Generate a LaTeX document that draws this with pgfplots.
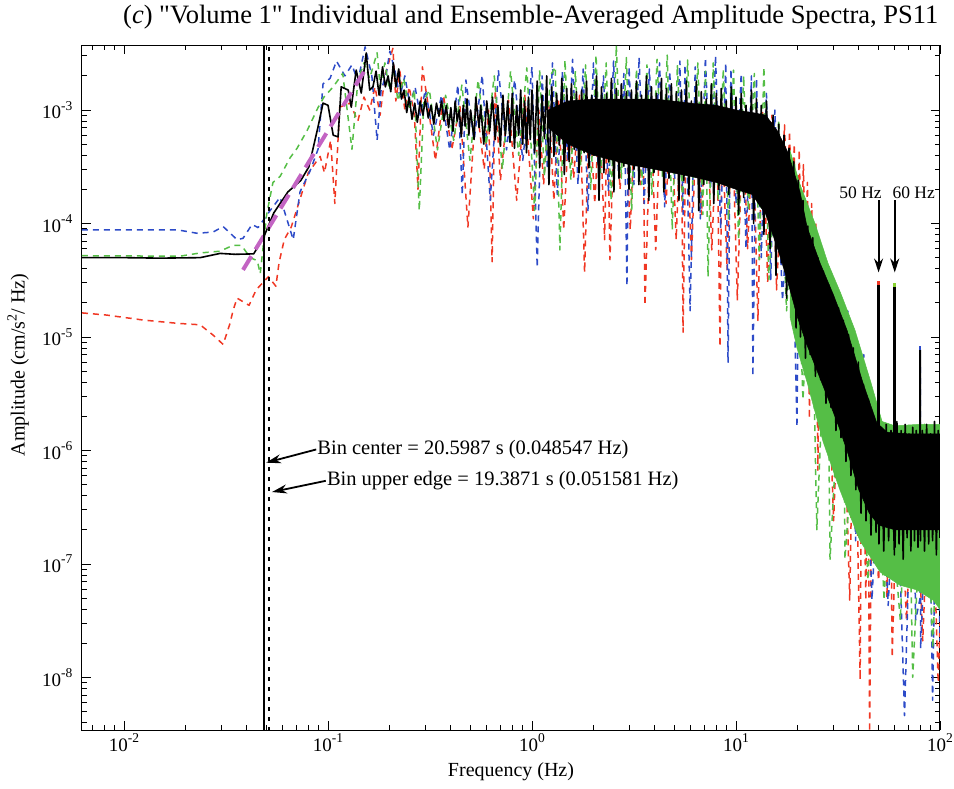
\documentclass[border=0pt]{standalone}
\usepackage{fontspec}
\setmainfont{Liberation Serif}[Ligatures=TeXOff]
\usepackage{pgfplots}
\pgfplotsset{compat=1.18}
\usetikzlibrary{arrows.meta}
\definecolor{cblue}{RGB}{45,75,200}
\definecolor{cgreen}{RGB}{85,190,70}
\definecolor{cred}{RGB}{240,55,35}
\definecolor{cmag}{RGB}{195,100,195}
\newcommand{\tl}[1]{{\fontsize{19}{19}\selectfont 10\raisebox{0.45em}{\fontsize{13.5}{13.5}\selectfont #1}}}
\begin{document}
\begin{tikzpicture}
\begin{axis}[
  at={(0pt,0pt)}, anchor=south west,
  width=858pt, height=685pt, scale only axis,
  xmode=log, ymode=log,
  xmin=0.00622, xmax=100, ymin=3.44e-9, ymax=3.74e-3,
  xtick={0.01,0.1,1,10,100},
  xticklabels={\tl{-2},\tl{-1},\tl{0},\tl{1},\tl{2}},
  ytick={1e-8,1e-7,1e-6,1e-5,1e-4,1e-3},
  yticklabels={\tl{-8},\tl{-7},\tl{-6},\tl{-5},\tl{-4},\tl{-3}},
  minor xtick={0.007,0.008,0.009,0.02,0.03,0.04,0.05,0.06,0.07,0.08,0.09,0.2,0.3,0.4,0.5,0.6,0.7,0.8,0.9,2,3,4,5,6,7,8,9,20,30,40,50,60,70,80,90},
  minor ytick={4e-9,5e-9,6e-9,7e-9,8e-9,9e-9,2e-8,3e-8,4e-8,5e-8,6e-8,7e-8,8e-8,9e-8,2e-7,3e-7,4e-7,5e-7,6e-7,7e-7,8e-7,9e-7,2e-6,3e-6,4e-6,5e-6,6e-6,7e-6,8e-6,9e-6,2e-5,3e-5,4e-5,5e-5,6e-5,7e-5,8e-5,9e-5,2e-4,3e-4,4e-4,5e-4,6e-4,7e-4,8e-4,9e-4,2e-3,3e-3},
  xtick pos=both, ytick pos=both,
  tick align=inside,
  major tick length=9pt, minor tick length=5pt,
  every tick/.style={black, line width=0.8pt},
  axis line style={line width=1pt},
  every y tick label/.append style={xshift=-6pt},
  clip=true,
  every axis plot/.append style={line join=round, mark=none},
]
% red individual record
\addplot[cred, line width=1.5pt, dash pattern=on 6pt off 5pt] coordinates {
(0.00622,1.63e-5)(0.0082,1.56e-5)(0.0124,1.41e-5)(0.0182,1.32e-5)(0.0236,1.28e-5)(0.0273,1.04e-5)(0.0306,8.6e-6)(0.0330,1.3e-5)(0.0342,1.7e-5)(0.0358,2.2e-5)(0.0410,1.9e-5)(0.0444,2.6e-5)(0.0510,3.4e-5)(0.0555,2.8e-5)(0.0575,4.5e-5)(0.0610,7.2e-5)(0.0660,9.3e-5)(0.0700,1.3e-4)(0.0800,2.8e-4)(0.0915,3.9e-4)(0.0960,2.8e-4)(0.1030,5.4e-4)(0.1080,1.5e-4)(0.1140,1.06e-3)(0.1280,1.15e-3)(0.1400,8.0e-4)(0.1500,1.3e-3)(0.1600,1.0e-3)(0.1700,1.6e-3)(0.1800,9.0e-4)(0.1900,2.0e-3)(0.2080,3.5e-3)(0.2150,1.2e-3)(0.2250,2.2e-3)(0.2380,1.0e-3)(0.2500,1.6e-3)(0.2650,9.0e-4)(0.276,2.0e-4)(0.290,2.4e-3)
(0.307,1.22e-3)(0.336,3.6e-4)(0.368,1.35e-3)(0.404,4.45e-4)(0.443,1.1e-3)(0.485,9.3e-5)(0.532,1.22e-3)(0.583,3.0e-4)(0.612,1.0e-3)(0.637,4.6e-5)(0.660,1.5e-3)(0.700,2.4e-4)(0.767,1.22e-3)(0.841,1.6e-4)(0.922,1.35e-3)
(1.015,1.1e-4)(1.08,1.0e-3)(1.14,2.2e-4)(1.21,1.1e-3)(1.28,1.6e-4)(1.35,1.22e-3)(1.43,8.8e-5)(1.52,9.0e-4)(1.60,2.5e-4)(1.71,1.35e-3)(1.81,3.7e-5)(1.91,1.1e-3)(2.03,1.5e-4)(2.14,1.0e-3)(2.27,7.2e-5)(2.34,1.1e-3)(2.41,4.8e-5)(2.55,1.22e-3)(2.70,2.0e-4)(2.86,9.5e-4)(3.03,8.8e-5)(3.21,1.1e-3)(3.40,2.2e-4)(3.50,9.0e-4)(3.58,1.9e-5)(3.82,1.0e-3)(4.04,5.85e-5)(4.28,1.22e-3)(4.54,1.5e-4)(4.80,1.0e-3)(5.09,7.2e-5)(5.39,1.1e-3)(5.50,1.1e-5)(5.70,1.0e-3)(6.05,4.8e-5)(6.40,9.0e-4)(6.78,1.2e-4)(7.19,1.1e-3)(7.61,5.85e-5)(8.06,8.0e-4)(8.35,8.2e-6)(8.54,8.2e-4)(9.04,3.9e-5)(9.58,9.0e-4)(10.15,2.1e-5)(10.8,8.5e-4)(11.4,6.0e-5)(12.1,7.4e-4)(12.8,1.4e-5)(13.5,9.5e-4)(14.3,3.0e-5)(15.0,9.0e-4)(15.8,2.6e-5)
(17.3,7.4e-4)(17.8,1.5e-4)(18.3,6.5e-4)(18.8,1.2e-4)(19.3,5.0e-4)(19.8,9.4e-6)(20.4,4.45e-4)(20.9,6.3e-5)(21.4,3.3e-4)(21.9,5.0e-5)(22.4,2.3e-4)(22.9,1.9e-6)(23.5,1.5e-4)(24.0,3.0e-5)(24.6,1.0e-4)(25.2,6.7e-7)(25.8,6.0e-5)(26.5,1.5e-5)(27.4,3.2e-5)(30.1,2.4e-7)(32.9,1.7e-5)(36.1,4.8e-8)(38.0,1.0e-5)(40.6,9.5e-9)(41.5,5.1e-6)(43.3,4.8e-8)(44.2,3.0e-6)(45.2,3.3e-9)(46.5,1.86e-6)(49.9,7.2e-8)(50.0,3.0e-5)(50.1,7.2e-8)(52.1,1.5e-6)(55.0,5e-8)(57.0,1.24e-6)(58.3,1.5e-8)(62.5,1.5e-6)(68.5,3.2e-8)(75.1,1.4e-6)(82.3,2.1e-8)(90.1,1.24e-6)(98.0,9.0e-9)(100,3.0e-8)
};
% blue individual record
\addplot[cblue, line width=1.5pt, dash pattern=on 6pt off 5pt] coordinates {
(0.00622,8.8e-5)(0.0182,8.8e-5)(0.0228,8.2e-5)(0.0273,8.4e-5)(0.0306,9.4e-5)(0.0358,7.2e-5)(0.0383,7.4e-5)(0.0424,9.8e-5)(0.0454,9.2e-5)(0.052,1.3e-4)(0.0582,1.7e-4)(0.0675,7.2e-5)(0.0729,1.9e-4)(0.0816,2.9e-4)(0.0893,4.5e-4)(0.0945,1.7e-3)(0.1023,1.9e-3)(0.110,2.7e-3)(0.121,2.0e-3)(0.131,2.5e-3)(0.140,1.8e-3)(0.152,3.6e-3)(0.164,2.0e-3)(0.174,5.4e-4)(0.182,1.5e-3)(0.192,2.0e-3)(0.201,3.3e-3)(0.213,2.2e-3)(0.225,1.3e-3)(0.238,2.0e-3)(0.252,1.1e-3)(0.267,1.6e-3)(0.283,9.0e-4)
(0.300,1.5e-3)(0.329,6.0e-4)(0.360,1.35e-3)(0.395,4.45e-4)(0.433,1.66e-3)(0.455,1.78e-4)(0.474,1.84e-3)(0.520,5.4e-4)(0.570,2.03e-3)(0.624,1.6e-4)(0.684,2.25e-3)(0.750,4.45e-4)(0.822,1.84e-3)(0.901,3.6e-4)
(1.00,2.4e-3)(1.06,4.1e-5)(1.12,2.0e-3)(1.19,3.0e-4)(1.26,2.6e-3)(1.33,1.8e-4)(1.41,2.2e-3)(1.50,3.5e-4)(1.58,2.8e-3)(1.68,2.2e-4)(1.78,2.3e-3)(1.88,1.3e-4)(2.00,2.6e-3)(2.11,3.2e-4)(2.24,2.0e-3)(2.37,1.9e-4)(2.51,2.7e-3)(2.66,2.6e-4)(2.82,2.1e-3)(2.92,2.8e-5)(2.99,2.4e-3)(3.16,2.2e-4)(3.35,2.9e-3)(3.55,1.5e-4)(3.76,2.3e-3)(3.98,3.0e-4)(4.22,2.6e-3)(4.47,1.4e-4)(4.73,2.2e-3)(5.01,2.5e-4)(5.31,2.7e-3)(5.50,1.2e-4)(5.62,2.5e-3)(5.96,1.7e-5)(6.31,2.4e-3)(6.68,1.1e-4)(7.08,2.9e-3)(7.50,2.0e-4)(7.94,3.0e-3)(8.41,9.0e-5)(8.91,2.6e-3)(9.14,5.9e-6)(9.44,2.3e-3)(10.0,1.5e-4)(10.6,2.1e-3)(11.2,6.0e-5)(11.9,2.0e-3)(12.1,4.5e-6)(12.6,1.9e-3)(13.3,5.0e-5)(14.1,1.4e-3)(14.8,3.2e-5)
(15.5,1.0e-3)(16.9,2.1e-5)(18.6,3.6e-4)(19.9,1.6e-6)(20.4,1.6e-4)(22.3,4.2e-6)(24.4,6.4e-5)(26.8,1.86e-6)(29.4,3.2e-5)(32.2,6.7e-7)(35.3,1.7e-5)(38.6,1.6e-7)(42.3,7.0e-6)(46.4,4.8e-8)(50.9,1.7e-6)(55.7,4.3e-8)(61.1,1.24e-6)(67.0,4.6e-9)(73.4,1.5e-6)(76.0,3.2e-8)(79.9,5e-8)(80.0,8.0e-6)(80.4,1.8e-8)(88.1,1.4e-6)(92.0,6.3e-9)(96.6,1.24e-6)(100,2.1e-8)
};
% green dense band
\addplot[cgreen, fill=cgreen, line width=0.5pt] coordinates {
(18.4,4.4e-4)(20.6,2.2e-4)(24.4,1.0e-4)(28.2,4.5e-5)(32.7,2.4e-5)(38.3,1.15e-5)(46,3.9e-6)(52,1.8e-6)(60,1.65e-6)(80,1.7e-6)(100,1.7e-6)
(100,4.0e-8)(92.4,4.8e-8)(77.1,5.9e-8)(63.6,6.5e-8)(50.8,8.5e-8)(40.5,1.6e-7)(32.3,4.5e-7)(26.7,1.2e-6)(22.3,4.0e-6)(19.9,8.0e-6)(18.4,1.5e-5)
} -- cycle;
% green individual record
\addplot[cgreen, line width=1.5pt, dash pattern=on 6pt off 5pt] coordinates {
(0.00622,5.2e-5)(0.0188,5.15e-5)(0.0236,5.5e-5)(0.0296,5.7e-5)(0.034,6.4e-5)(0.0377,6.4e-5)(0.0415,5.0e-5)(0.045,4.7e-5)(0.0465,3.6e-5)(0.050,1.2e-4)(0.0537,2.3e-4)(0.0582,2.6e-4)(0.0652,3.8e-4)(0.0705,4.6e-4)(0.079,6.6e-4)(0.0893,1.05e-3)(0.0955,1.3e-3)(0.106,1.6e-3)(0.118,2.1e-3)(0.131,4.5e-4)(0.140,1.8e-3)(0.150,2.6e-3)(0.160,1.9e-3)(0.174,3.2e-3)(0.180,1.6e-3)(0.19,2.6e-3)(0.20,1.5e-3)(0.21,2.3e-3)(0.22,1.2e-3)(0.235,1.9e-3)(0.25,1.0e-3)(0.265,1.5e-3)(0.28,1.3e-4)(0.295,1.2e-3)
(0.314,1.5e-3)(0.344,4.45e-4)(0.377,1.35e-3)(0.413,5.4e-4)(0.453,1.66e-3)(0.496,3.6e-4)(0.544,1.84e-3)(0.596,4.9e-4)(0.653,2.0e-3)(0.716,3.0e-4)(0.785,2.2e-3)(0.860,4.0e-4)(0.943,2.35e-3)
(1.03,1.3e-4)(1.09,2.25e-3)(1.15,2.6e-4)(1.23,2.0e-3)(1.30,2.4e-3)(1.37,5.85e-5)(1.45,2.76e-3)(1.55,2.4e-4)(1.63,2.2e-3)(1.73,3.3e-4)(1.83,2.5e-3)(1.94,2.0e-4)(2.06,3.05e-3)(2.17,2.8e-4)(2.31,2.6e-3)(2.44,1.6e-4)(2.59,3.7e-3)(2.74,2.5e-4)(2.90,2.9e-3)(3.08,1.3e-4)(3.25,2.3e-3)(3.45,2.2e-4)(3.66,2.5e-3)(3.87,1.8e-4)(4.10,2.8e-3)(4.35,2.6e-4)(4.60,3.05e-3)(4.87,8.8e-5)(5.16,2.5e-3)(5.47,1.6e-4)(5.79,2.76e-3)(6.14,2.2e-4)(6.50,2.6e-3)(6.88,1.2e-4)(7.08,2.2e-3)(7.29,3.4e-5)(7.73,2.6e-3)(8.18,1.6e-4)(8.66,2.3e-3)(9.18,1.07e-4)(9.72,2.25e-3)(10.3,7.2e-5)(10.9,2.0e-3)(11.5,1.3e-4)(12.3,2.1e-3)(13.0,4.8e-5)(13.7,2.4e-3)(14.5,3.2e-5)
(16.2,8.2e-4)(17.7,1.7e-5)(19.4,3.3e-4)(21.3,2.8e-6)(23.3,8.8e-5)(24.9,2.0e-7)(28.0,3.5e-5)(28.9,1.1e-7)(33.7,1.9e-5)(34.2,1.1e-7)(40.4,7.7e-6)(44.3,7.2e-8)(48.5,2.1e-6)(53.2,4.8e-8)(58.3,1.7e-6)(59.9,1.1e-7)(60.0,2.9e-5)(60.1,1.2e-7)(63.9,3.2e-8)(70.0,1.5e-6)(73.5,1.0e-8)(84.1,1.7e-6)(92.2,1.8e-8)(100,1.24e-6)
};
% black dense core
\addplot[black, fill=black, line width=0.5pt] coordinates {
(1.2,1.0e-3)(1.5,1.2e-3)(2,1.25e-3)(4,1.25e-3)(6,1.15e-3)(8,1.1e-3)(10,1.0e-3)(12,9.5e-4)(14,9.0e-4)(16,6.5e-4)(18,4.2e-4)(20.6,1.9e-4)(22.3,9.3e-5)(25.8,4.5e-5)(29.9,2.4e-5)(35,1.15e-5)(42,3.9e-6)(49,1.75e-6)(55,1.45e-6)(70,1.4e-6)(100,1.4e-6)
(100,2.0e-7)(60,2.0e-7)(50,2.2e-7)(45,2.8e-7)(40,4.5e-7)(35,1.0e-6)(32,1.6e-6)(28,3.0e-6)(25,5.0e-6)(22,9.0e-6)(20,1.5e-5)(18,3.0e-5)(16,6.0e-5)(14,1.2e-4)(12,1.8e-4)(10,2.0e-4)(8,2.3e-4)(6,2.6e-4)(4,3.0e-4)(3,3.3e-4)(2,4.0e-4)(1.5,5.0e-4)(1.2,7.0e-4)
} -- cycle;
% black ensemble average
\addplot[black, line width=1.6pt] coordinates {
(0.00622,5.0e-5)(0.010,5.0e-5)(0.015,4.95e-5)(0.0236,5.0e-5)(0.0296,5.45e-5)(0.035,5.35e-5)(0.0432,5.4e-5)(0.0484,7.6e-5)(0.0542,1.24e-4)(0.0636,1.9e-4)(0.0736,2.4e-4)(0.0805,3.15e-4)(0.0893,7.1e-4)(0.0945,1.15e-3)(0.100,1.1e-3)(0.106,6.0e-4)(0.112,5.8e-4)(0.116,1.6e-3)(0.1255,1.5e-3)(0.130,1.06e-3)(0.1374,2.25e-3)(0.1455,1.41e-3)(0.1538,3.18e-3)(0.160,1.5e-3)(0.166,1.6e-3)(0.172,2.2e-3)(0.178,1.35e-3)(0.185,2.4e-3)(0.191,1.6e-3)(0.197,2.0e-3)(0.203,1.45e-3)(0.209,2.6e-3)(0.215,1.6e-3)(0.222,2.3e-3)(0.229,1.25e-3)(0.236,1.5e-3)(0.243,9.5e-4)(0.250,1.3e-3)(0.258,8.3e-4)(0.266,1.15e-3)(0.274,7.8e-4)(0.283,1.2e-3)(0.292,9.0e-4)
(0.30,1.25e-3)(0.31,8.5e-4)(0.32,1.1e-3)(0.33,7.5e-4)(0.34,1.15e-3)(0.35,8.8e-4)(0.36,1.2e-3)(0.37,8.0e-4)(0.38,1.1e-3)(0.39,7.0e-4)(0.40,1.05e-3)(0.41,6.5e-4)(0.42,1.2e-3)(0.43,8.0e-4)(0.44,1.0e-3)(0.45,5.8e-4)(0.46,1.1e-3)(0.47,7.2e-4)(0.48,1.25e-3)(0.49,6.0e-4)(0.50,1.0e-3)(0.52,5.5e-4)(0.53,1.3e-3)(0.55,7.0e-4)(0.56,1.1e-3)(0.58,5.0e-4)(0.60,1.2e-3)(0.62,6.5e-4)(0.64,1.3e-3)(0.66,5.5e-4)(0.68,1.1e-3)(0.70,4.8e-4)(0.72,1.35e-3)(0.74,6.0e-4)(0.76,1.2e-3)(0.78,5.2e-4)(0.80,1.4e-3)(0.82,4.6e-4)(0.84,1.1e-3)(0.86,6.0e-4)(0.88,1.5e-3)(0.90,5.0e-4)(0.92,1.2e-3)(0.94,4.2e-4)(0.96,1.3e-3)(0.98,5.5e-4)
(1.00,1.5e-3)(1.03,4.2e-4)(1.06,1.8e-3)(1.09,3.1e-4)(1.12,1.35e-3)(1.15,5.6e-4)(1.18,2.0e-3)(1.21,2.2e-4)(1.25,1.6e-3)(1.28,3.9e-4)(1.32,1.4e-3)(1.36,4.9e-4)(1.40,1.9e-3)(1.44,2.7e-4)(1.48,1.55e-3)(1.52,3.5e-4)(1.56,1.7e-3)(1.61,4.5e-4)(1.65,1.45e-3)(1.70,2.8e-4)(1.75,1.5e-3)(1.80,4.2e-4)(1.85,1.8e-3)(1.90,3.1e-4)(1.96,1.35e-3)(2.01,4.0e-4)(2.07,2.0e-3)(2.13,1.6e-4)(2.19,1.6e-3)(2.25,2.8e-4)(2.32,1.4e-3)(2.38,3.5e-4)(2.45,1.9e-3)(2.52,1.9e-4)(2.59,1.55e-3)(2.67,2.5e-4)(2.74,1.7e-3)(2.82,3.2e-4)(2.90,1.45e-3)(2.99,2.0e-4)(3.07,1.5e-3)(3.16,3.0e-4)(3.25,1.8e-3)(3.34,2.2e-4)(3.44,1.35e-3)(3.54,4.0e-4)(3.64,2.0e-3)(3.74,1.6e-4)(3.85,1.6e-3)(3.96,2.8e-4)(4.07,1.4e-3)(4.19,3.5e-4)(4.31,1.9e-3)(4.43,1.9e-4)(4.56,1.55e-3)(4.69,2.5e-4)(4.82,1.7e-3)(4.96,3.2e-4)(5.10,1.45e-3)(5.25,1.6e-4)(5.40,1.5e-3)(5.55,2.4e-4)(5.71,1.8e-3)(5.87,1.8e-4)(6.04,1.2e-3)(6.21,3.2e-4)(6.39,1.8e-3)(6.57,1.3e-4)(6.76,1.45e-3)(6.95,2.2e-4)(7.15,1.25e-3)(7.36,2.8e-4)(7.57,1.7e-3)(7.78,1.5e-4)(8.01,1.4e-3)(8.24,2.0e-4)(8.47,1.55e-3)(8.71,2.6e-4)(8.96,1.2e-3)(9.22,1.8e-4)(9.48,1.6e-3)(9.75,2.4e-4)(10.0,1.3e-3)(10.3,1.2e-4)(10.6,1.4e-3)(10.9,1.7e-4)(11.2,1.1e-3)(11.6,2.1e-4)(11.9,1.5e-3)(12.2,1.0e-4)(12.6,1.25e-3)(12.9,1.5e-4)(13.3,1.1e-3)(13.7,8.0e-5)(14.1,1.2e-3)
(14.7,6.0e-5)(15.2,9.0e-4)(15.7,3.5e-5)(16.2,7.5e-4)(16.7,4.5e-5)(17.2,6.0e-4)(17.7,2.2e-5)(18.2,4.6e-4)(18.7,2.5e-5)(19.2,3.5e-4)(19.7,1.2e-5)(20.2,2.4e-4)(20.7,1.0e-5)(21.3,1.6e-4)(21.9,6.5e-6)(22.5,9.5e-5)(23.1,7.0e-6)(23.8,7.5e-5)(24.5,4.5e-6)(25.2,5.0e-5)(26.0,4.2e-6)(26.8,3.8e-5)(27.6,2.6e-6)(28.4,2.9e-5)(29.2,2.4e-6)(30.0,2.3e-5)(30.9,1.5e-6)(31.8,1.8e-5)(32.7,1.3e-6)(33.6,1.4e-5)(34.6,8.0e-7)(35.6,1.05e-5)(36.6,6.0e-7)(37.6,8.0e-6)(38.7,4.5e-7)(39.8,6.0e-6)(41.0,2.8e-7)(42.2,3.8e-6)(43.4,2.4e-7)(44.6,2.8e-6)(45.9,1.8e-7)(47.2,2.0e-6)(48.6,1.9e-7)
(49.9,1.4e-6)(50.0,2.87e-5)(50.2,1.5e-7)(51.5,1.6e-6)(53,1.3e-7)(54.5,1.7e-6)(56,1.6e-7)(57.5,1.5e-6)(59.8,1.2e-7)(60.0,2.77e-5)(60.2,1.4e-7)(61.5,1.8e-6)(63,1.5e-7)(64.5,1.5e-6)(66,1.1e-7)(67.5,1.7e-6)(69,1.7e-7)(70.5,1.4e-6)(72,1.3e-7)(73.5,1.6e-6)(75,1.6e-7)(76.5,1.5e-6)(78,1.4e-7)(79.9,1.6e-6)(80.0,7.7e-6)(80.2,1.6e-7)(82,1.5e-6)(84,1.3e-7)(86,1.7e-6)(88,1.5e-7)(90,1.4e-6)(92,1.6e-7)(94,1.8e-6)(96,1.2e-7)(98,1.5e-6)(100,1.7e-7)
};
% mains-line peaks (50, 60, 80 Hz)
\addplot[black, line width=2.6pt] coordinates {(50,1.0e-6)(50,2.87e-5)};
\addplot[black, line width=2.6pt] coordinates {(60,1.0e-6)(60,2.77e-5)};
\addplot[black, line width=2.4pt] coordinates {(80,1.0e-6)(80,7.7e-6)};
\addplot[cred, line width=2.6pt] coordinates {(50,2.87e-5)(50,3.1e-5)};
\addplot[cgreen!70!yellow, line width=2.6pt] coordinates {(60,2.77e-5)(60,3.0e-5)};
\addplot[cblue, line width=2.4pt] coordinates {(80,7.7e-6)(80,8.3e-6)};
% magenta reference slope
\addplot[cmag, line width=4pt, dash pattern=on 16pt off 8pt] coordinates {(0.0383,3.9e-5)(0.155,2.4e-3)};
% bin center and upper edge
\addplot[black, line width=2.2pt] coordinates {(0.048547,1e-9)(0.048547,1e-2)};
\addplot[black, line width=2pt, dash pattern=on 4pt off 6pt] coordinates {(0.051581,1e-9)(0.051581,1e-2)};
\coordinate (bcT) at (axis cs:0.0875,1.02e-6);
\coordinate (bcH) at (axis cs:0.0497,7.8e-7);
\coordinate (beT) at (axis cs:0.0975,5.4e-7);
\coordinate (beH) at (axis cs:0.0531,4.3e-7);
\coordinate (a50t) at (axis cs:50,1.6e-4);
\coordinate (a50h) at (axis cs:50,3.7e-5);
\coordinate (a60t) at (axis cs:60,1.6e-4);
\coordinate (a60h) at (axis cs:60,3.7e-5);
\end{axis}
\draw[line width=1.8pt,-{Stealth[length=15pt,width=9pt]}] (bcT) -- (bcH);
\draw[line width=1.8pt,-{Stealth[length=15pt,width=9pt]}] (beT) -- (beH);
\node[anchor=west, inner sep=1pt, font=\fontsize{20.5}{20.5}\selectfont] at (bcT) {Bin center = 20.5987 s (0.048547 Hz)};
\node[anchor=west, inner sep=1pt, font=\fontsize{20.5}{20.5}\selectfont] at (beT) {Bin upper edge = 19.3871 s (0.051581 Hz)};
\draw[line width=2pt,-{Stealth[length=14pt,width=9pt]}] (a50t) -- (a50h);
\draw[line width=2pt,-{Stealth[length=14pt,width=9pt]}] (a60t) -- (a60h);
\node[anchor=south, inner sep=1pt, font=\fontsize{17.5}{17.5}\selectfont] at ([xshift=-18pt]a50t) {50 Hz};
\node[anchor=south, inner sep=1pt, font=\fontsize{17.5}{17.5}\selectfont] at ([xshift=19pt]a60t) {60 Hz};
\node[anchor=west, inner sep=0pt, font=\fontsize{26.5}{26.5}\selectfont] at (41pt,713pt) {(\textit{c}) "Volume 1" Individual and Ensemble-Averaged Amplitude Spectra, PS11};
\node[font=\fontsize{20}{20}\selectfont] at (429pt,-42pt) {Frequency (Hz)};
\node[rotate=90, font=\fontsize{20}{20}\selectfont] at (-64pt,365pt) {Amplitude (cm/s\raisebox{0.4em}{\fontsize{14}{14}\selectfont 2}/ Hz)};
\pgfresetboundingbox
\path[use as bounding box] (-82pt,-59pt) rectangle (872pt,730pt);
\end{tikzpicture}
\end{document}
